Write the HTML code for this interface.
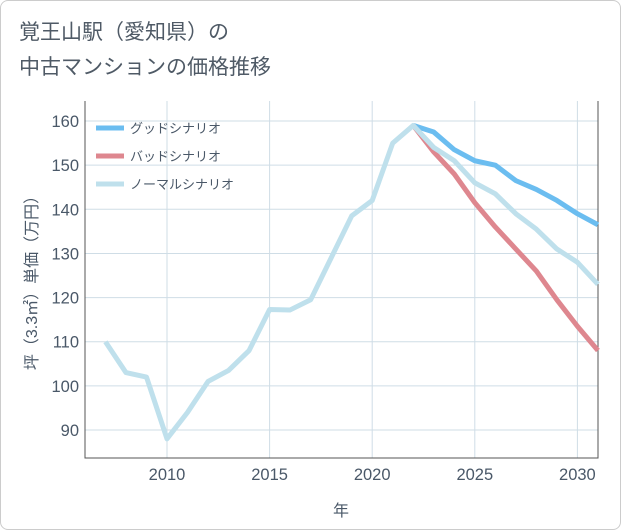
<!DOCTYPE html>
<html><head><meta charset="utf-8"><style>
body{margin:0;background:#fff;font-family:"Liberation Sans","Noto Sans CJK JP",sans-serif}
#wrap{position:relative;width:619px;height:528px;border:1px solid #ccc;border-radius:8px;background:#fff;overflow:hidden}
#title{position:absolute;left:18px;top:14px;font-size:21px;line-height:35px;color:#4f5a66}
</style></head><body>
<div id="wrap">
<div id="title">覚王山駅（愛知県）の<br>中古マンションの価格推移</div>
<svg id="svg" width="621" height="530" style="position:absolute;left:0;top:0"></svg>
</div>
<script>
const years=[2007,2008,2009,2010,2011,2012,2013,2014,2015,2016,2017,2018,2019,2020,2021,2022,2023,2024,2025,2026,2027,2028,2029,2030,2031];
const normal=[110,103,102,88,94,101,103.5,108,117.3,117.2,119.5,129,138.5,142,155,159,154,151,146,143.5,139,135.5,131,128,123];
const goodYears=[2022,2023,2024,2025,2026,2027,2028,2029,2030,2031];
const good=[159,157.5,153.5,151,150,146.5,144.5,142,139,136.5];
const bad=[159,153,148,141.5,136,131,126,119.5,113.5,108];
const yTicks=[90,100,110,120,130,140,150,160];
const xTicks=[2010,2015,2020,2025,2030];
const NS="http://www.w3.org/2000/svg",svg=document.getElementById('svg');
const L=84,R=597,T=100,B=457;
const TXT='#4a5868';
const x=v=>166+(v-2010)*20.52;
const y=v=>429-(v-90)*4.414;
function mk(t,a,p){const e=document.createElementNS(NS,t);for(const k in a)e.setAttribute(k,a[k]);(p||svg).appendChild(e);return e;}
for(const t of yTicks){
 const g=mk('line',{x1:L,x2:R,y1:y(t),y2:y(t),stroke:'#cfdde6','stroke-width':1});
 
 
 const tx=mk('text',{x:L-6,y:y(t)+6,'text-anchor':'end','font-size':16.5,fill:TXT});tx.textContent=t;
 
 
}
for(const t of xTicks){
 const g=mk('line',{x1:x(t),x2:x(t),y1:T,y2:B,stroke:'#cfdde6','stroke-width':1});
 
 
 const tx=mk('text',{x:x(t),y:B+22,'text-anchor':'middle','font-size':16.5,fill:TXT});tx.textContent=t;
 
 
}
const ax=mk('path',{d:`M${L} ${T}V${B}H${R}V${T}`,fill:'none',stroke:'#555','stroke-width':1});


function line(xs,vs,c,n){const p=mk('polyline',{points:xs.map((v,i)=>x(v)+','+y(vs[i])).join(' '),fill:'none',stroke:c,'stroke-width':5,'stroke-linejoin':'round'});
 
 }
line(goodYears,good,'#6bbdf0','good-scenario-line');
line(goodYears,bad,'#de878f','bad-scenario-line');
line(years,normal,'#bfe0ec','normal-scenario-line');
const leg=[['グッドシナリオ','#6bbdf0'],['バッドシナリオ','#de878f'],['ノーマルシナリオ','#bfe0ec']];
leg.forEach((l,i)=>{const yy=127+i*28;
 const s=mk('line',{x1:95,x2:123,y1:yy,y2:yy,stroke:l[1],'stroke-width':5});
 
 
 const t=mk('text',{x:129,y:yy+5,'font-size':13,fill:TXT});t.textContent=l[0];
 
 
});
const xt=mk('text',{x:340,y:515,'text-anchor':'middle','font-size':16,fill:TXT});xt.textContent='年';


const yt=mk('text',{x:0,y:0,'text-anchor':'middle','font-size':16,fill:TXT,transform:'translate(36,278) rotate(-90)'});yt.textContent='坪（3.3㎡）単価（万円）';


</script>
</body></html>
